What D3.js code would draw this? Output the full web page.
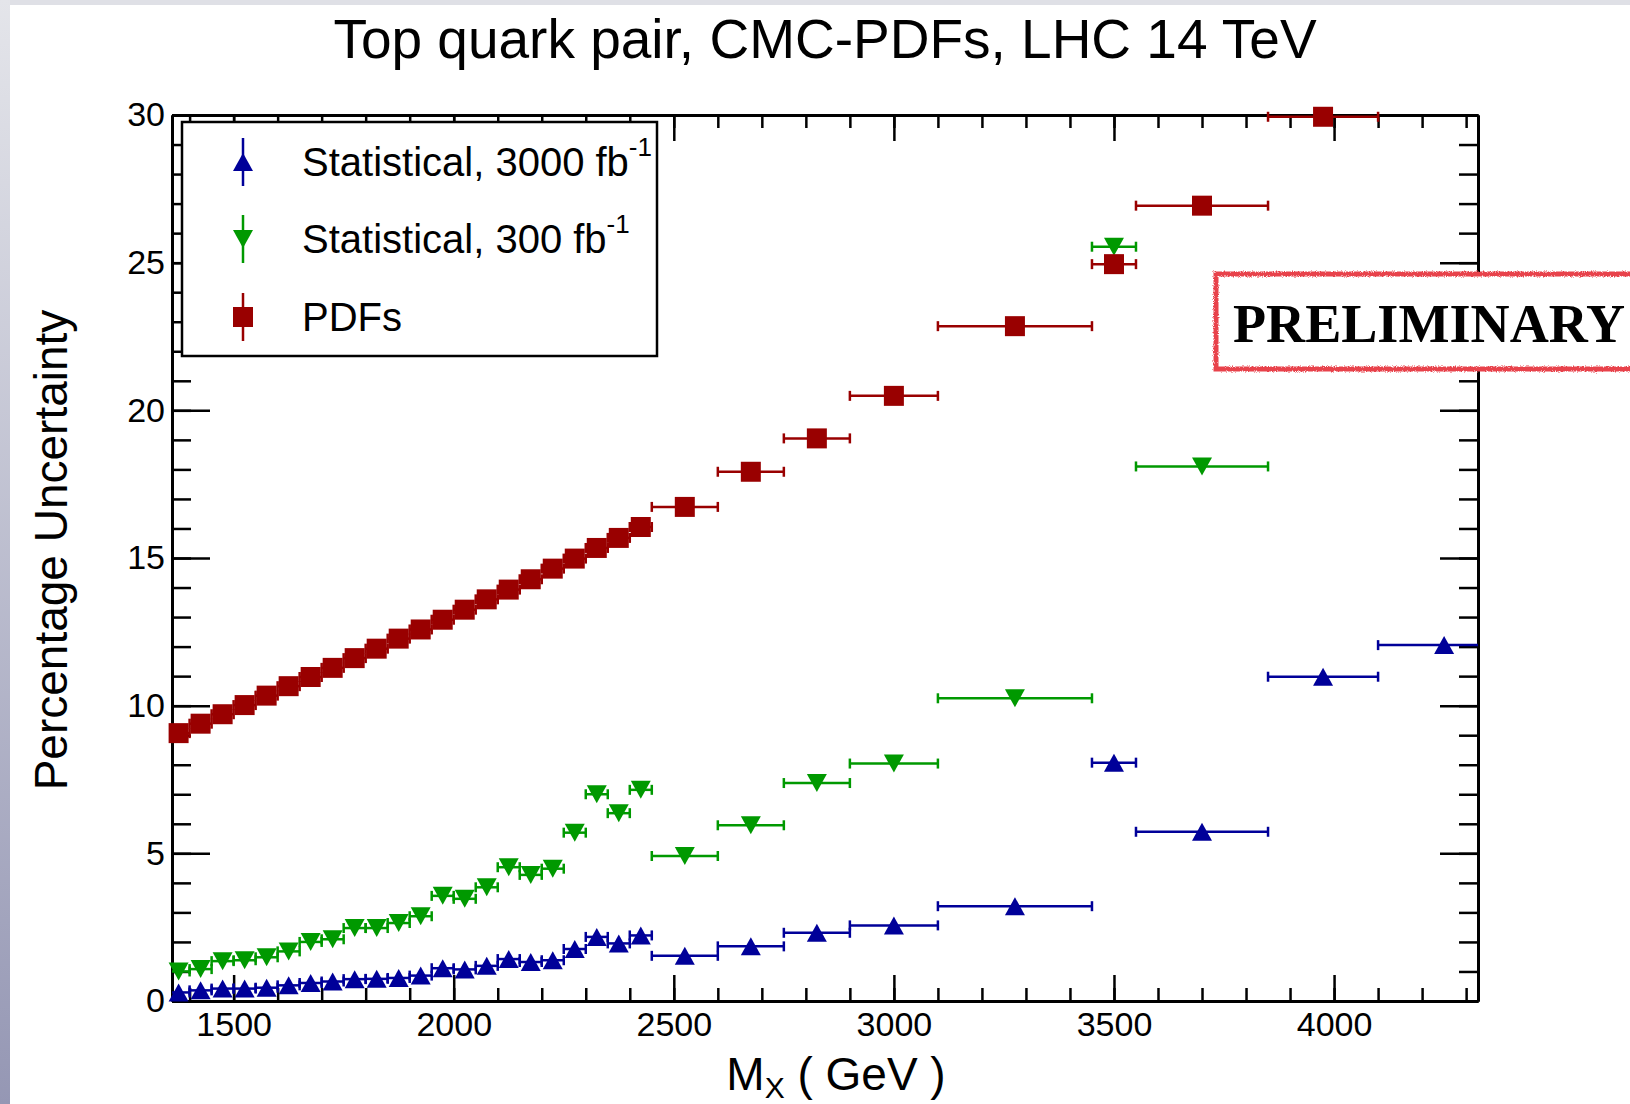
<!DOCTYPE html>
<html>
<head>
<meta charset="utf-8">
<script src="https://cdn.jsdelivr.net/npm/d3@7"></script>
<style>
    html, body { margin: 0; padding: 0; background: #fff; }
    body { width: 1630px; height: 1104px; overflow: hidden; }
    text { font-family: "Liberation Sans", Arial, sans-serif; }
</style>
</head>
<body>
<div id="chart"></div>
<script>
// bin edges in GeV (22 narrow bins, then the wide high-mass bins)
const binEdges = [1350, 1400, 1450, 1500, 1550, 1600, 1650, 1700, 1750, 1800, 1850, 1900,
                  1950, 2000, 2050, 2100, 2150, 2200, 2250, 2300, 2350, 2400, 2450,
                  2600, 2750, 2900, 3100, 3450, 3550, 3850, 4100, 4400];

// percentage uncertainty per bin (null = off the top of the plot)
const stat3000 = [0.29, 0.36, 0.42, 0.42, 0.45, 0.53, 0.61, 0.66, 0.74, 0.75, 0.78, 0.86,
                  1.11, 1.07, 1.19, 1.42, 1.32, 1.38, 1.76, 2.17, 1.95, 2.22,
                  1.53, 1.85, 2.31, 2.56, 3.21, 8.07, 5.73, 10.98, 12.05];
const stat300 = [1.0, 1.08, 1.35, 1.38, 1.48, 1.68, 2.0, 2.09, 2.47, 2.47, 2.64, 2.87,
                 3.56, 3.46, 3.85, 4.53, 4.27, 4.48, 5.7, 7.0, 6.36, 7.15,
                 4.91, 5.95, 7.38, 8.04, 10.25, 25.54, 18.1, null, null];
const pdfUnc = [9.07, 9.39, 9.71, 10.02, 10.34, 10.66, 10.97, 11.28, 11.61, 11.93, 12.27, 12.58,
                12.91, 13.25, 13.6, 13.93, 14.28, 14.64, 14.98, 15.34, 15.68, 16.05,
                16.73, 17.92, 19.05, 20.49, 22.85, 24.95, 26.93, 29.94, null];

const xTicks = [1500, 2000, 2500, 3000, 3500, 4000];
const yTicks = [0, 5, 10, 15, 20, 25, 30];

const seriesNames = ["Statistical, 3000 fb", "Statistical, 300 fb", "PDFs"];
const seriesSup = ["-1", "-1", ""];
const seriesColors = ["#000099", "#009900", "#990000"];
const seriesShapes = ["up", "down", "square"];
const seriesValues = [stat3000, stat300, pdfUnc];

const W = 1630, H = 1104;
const frame = {left: 172, right: 1478, top: 115, bottom: 1001};

const svg = d3.select("#chart").append("svg")
    .attr("width", W)
    .attr("height", H);

// slide background strips
const defs = svg.append("defs");
const grad = defs.append("linearGradient").attr("id", "sideGrad")
    .attr("x1", 0).attr("y1", 0).attr("x2", 0).attr("y2", 1);
grad.append("stop").attr("offset", "0%").attr("stop-color", "#e4e5ea");
grad.append("stop").attr("offset", "100%").attr("stop-color", "#9597b4");

svg.append("rect").attr("x", 0).attr("y", 0).attr("width", W).attr("height", H).attr("fill", "#fff");
svg.append("rect").attr("x", 0).attr("y", 0).attr("width", W).attr("height", 5).attr("fill", "#dfe0e6");
svg.append("rect").attr("x", 0).attr("y", 0).attr("width", 10).attr("height", H).attr("fill", "url(#sideGrad)");

defs.append("clipPath").attr("id", "xclip")
    .append("rect")
    .attr("x", frame.left).attr("y", 0)
    .attr("width", frame.right - frame.left).attr("height", H);

// rough crayon-like edge for the stamp
const rough = defs.append("filter").attr("id", "rough")
    .attr("x", "-5%").attr("y", "-20%").attr("width", "110%").attr("height", "140%");
rough.append("feTurbulence").attr("type", "fractalNoise").attr("baseFrequency", 0.9)
    .attr("numOctaves", 2).attr("result", "noise");
rough.append("feDisplacementMap").attr("in", "SourceGraphic").attr("in2", "noise")
    .attr("scale", 4);

const x = d3.scaleLinear().domain([1360, 4327]).range([frame.left, frame.right]);
const y = d3.scaleLinear().domain([0, 30]).range([frame.bottom, frame.top]);

// title
svg.append("text")
    .attr("x", 825).attr("y", 58)
    .attr("text-anchor", "middle")
    .style("font-size", "55px")
    .text("Top quark pair, CMC-PDFs, LHC 14 TeV");

// axes (ROOT style: ticks inside, on all four sides)
const xMinor = d3.range(1400, 4327, 100);
const yMinor = d3.range(0, 31, 1);

function styleAxis(g){
    g.selectAll(".domain").attr("stroke", "#000").attr("stroke-width", 3);
    g.selectAll(".tick line").attr("stroke", "#000").attr("stroke-width", 2.5);
    g.selectAll("text").attr("fill", "#000").style("font-size", "34px")
        .style("font-family", "'Liberation Sans', Arial, sans-serif");
}

svg.append("g")
    .attr("transform", `translate(0,${frame.bottom})`)
    .call(d3.axisBottom(x).tickValues(xMinor).tickSize(-13).tickSizeOuter(0).tickFormat(""))
    .call(styleAxis);
svg.append("g")
    .attr("transform", `translate(0,${frame.bottom})`)
    .call(d3.axisBottom(x).tickValues(xTicks).tickSize(-26).tickSizeOuter(0).tickPadding(11)
        .tickFormat(d3.format("d")))
    .call(styleAxis);
svg.append("g")
    .attr("transform", `translate(0,${frame.top})`)
    .call(d3.axisTop(x).tickValues(xMinor).tickSize(-13).tickSizeOuter(0).tickFormat(""))
    .call(styleAxis);
svg.append("g")
    .attr("transform", `translate(0,${frame.top})`)
    .call(d3.axisTop(x).tickValues(xTicks).tickSize(-26).tickSizeOuter(0).tickFormat(""))
    .call(styleAxis);

svg.append("g")
    .attr("transform", `translate(${frame.left},0)`)
    .call(d3.axisLeft(y).tickValues(yMinor).tickSize(-19).tickSizeOuter(0).tickFormat(""))
    .call(styleAxis);
svg.append("g")
    .attr("transform", `translate(${frame.left},0)`)
    .call(d3.axisLeft(y).tickValues(yTicks).tickSize(-38).tickSizeOuter(0).tickPadding(7))
    .call(styleAxis);
svg.append("g")
    .attr("transform", `translate(${frame.right},0)`)
    .call(d3.axisRight(y).tickValues(yMinor).tickSize(-19).tickSizeOuter(0).tickFormat(""))
    .call(styleAxis);
svg.append("g")
    .attr("transform", `translate(${frame.right},0)`)
    .call(d3.axisRight(y).tickValues(yTicks).tickSize(-38).tickSizeOuter(0).tickFormat(""))
    .call(styleAxis);

// axis titles
svg.append("text")
    .attr("transform", "translate(67,550) rotate(-90)")
    .attr("text-anchor", "middle")
    .style("font-size", "46px")
    .text("Percentage Uncertainty");

const xt = svg.append("text")
    .attr("x", 836).attr("y", 1090)
    .attr("text-anchor", "middle")
    .style("font-size", "46px");
xt.append("tspan").text("M");
xt.append("tspan").attr("dy", 8).style("font-size", "30px").text("X");
xt.append("tspan").attr("dy", -8).text(" ( GeV )");

// marker paths, centred on the point
function markerPath(shape){
    if (shape === "up") return "M-10,9L10,9L0,-9Z";
    if (shape === "down") return "M-10,-9L10,-9L0,9Z";
    return "M-10,-10L10,-10L10,10L-10,10Z";
}

// data points with horizontal bin-width error bars
const plot = svg.append("g");
seriesValues.forEach((vals, si) => {
    const pts = vals.map((v, i) => ({v: v, lo: binEdges[i], hi: binEdges[i + 1]}))
        .filter(d => d.v !== null);
    const color = seriesColors[si];

    const bars = plot.append("g").attr("clip-path", "url(#xclip)")
        .attr("stroke", color).attr("stroke-width", 2.5).attr("fill", "none");
    bars.selectAll(".hbar").data(pts).enter().append("line")
        .attr("x1", d => x(d.lo)).attr("x2", d => x(d.hi))
        .attr("y1", d => y(d.v)).attr("y2", d => y(d.v));
    bars.selectAll(".capL").data(pts).enter().append("line")
        .attr("x1", d => x(d.lo)).attr("x2", d => x(d.lo))
        .attr("y1", d => y(d.v) - 5).attr("y2", d => y(d.v) + 5);
    bars.selectAll(".capR").data(pts).enter().append("line")
        .attr("x1", d => x(d.hi)).attr("x2", d => x(d.hi))
        .attr("y1", d => y(d.v) - 5).attr("y2", d => y(d.v) + 5);

    plot.append("g").selectAll("path").data(pts).enter().append("path")
        .attr("d", markerPath(seriesShapes[si]))
        .attr("transform", d => `translate(${x((d.lo + d.hi) / 2)},${y(d.v)})`)
        .attr("fill", color);
});

// legend
const legend = svg.append("g");
legend.append("rect")
    .attr("x", 182).attr("y", 122).attr("width", 475).attr("height", 234)
    .attr("fill", "#fff").attr("stroke", "#000").attr("stroke-width", 2.5);

const legendRows = [162, 239, 317];
seriesNames.forEach((name, i) => {
    const cy = legendRows[i];
    legend.append("line")
        .attr("x1", 243).attr("x2", 243).attr("y1", cy - 24).attr("y2", cy + 24)
        .attr("stroke", seriesColors[i]).attr("stroke-width", 2.5);
    legend.append("path")
        .attr("d", markerPath(seriesShapes[i]))
        .attr("transform", `translate(243,${cy})`)
        .attr("fill", seriesColors[i]);
    const t = legend.append("text")
        .attr("x", 302).attr("y", cy + 14)
        .style("font-size", "40px");
    t.append("tspan").text(name);
    if (seriesSup[i]) {
        t.append("tspan").attr("dy", -20).style("font-size", "26px").text(seriesSup[i]);
    }
});

// PRELIMINARY stamp
const stamp = svg.append("g");
stamp.append("rect")
    .attr("x", 1216).attr("y", 274).attr("width", 460).attr("height", 95)
    .attr("fill", "#fff").attr("stroke", "#e8434b").attr("stroke-width", 5)
    .attr("filter", "url(#rough)");
stamp.append("text")
    .attr("x", 1233).attr("y", 342)
    .attr("textLength", 392).attr("lengthAdjust", "spacingAndGlyphs")
    .style("font-family", "'Liberation Serif', 'DejaVu Serif', serif")
    .style("font-weight", "bold")
    .style("font-size", "54px")
    .text("PRELIMINARY");
</script>
</body>
</html>
